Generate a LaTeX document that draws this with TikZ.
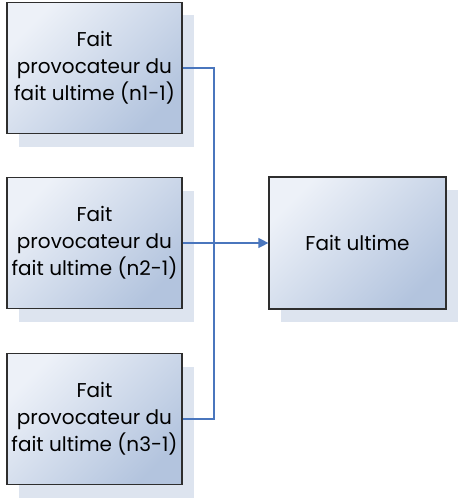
\documentclass[tikz,border=0pt]{standalone}
\usepackage{fontspec}
\setmainfont{Poppins}
\usetikzlibrary{shadows,arrows.meta}
\definecolor{boxlight}{HTML}{EDF1F8}
\definecolor{boxdark}{HTML}{B3C4DE}
\definecolor{boxshadow}{HTML}{DDE4EF}
\definecolor{linkblue}{HTML}{4A76BD}
\definecolor{boxborder}{HTML}{2E2E2E}
\begin{document}
\begin{tikzpicture}[x=1pt, y=-1pt, >={Triangle[length=10pt,width=10pt]},
    every node/.style={rectangle, draw=boxborder, line width=1.2pt, top color=boxlight, bottom color=boxdark, shading angle=45, align=center, inner sep=0pt, font=\fontsize{20}{27}\selectfont,
        drop shadow={shadow xshift=12pt, shadow yshift=-13pt, fill=boxshadow, opacity=1, draw=none}},
    fait/.style={minimum width=175pt, minimum height=131pt},
    link/.style={draw=linkblue, line width=1.3pt}]
        \useasboundingbox (0,0) rectangle (460,500);
        %draw nodes by coordinates
        \node[fait] (n1) at (94.5,68) {Fait\\provocateur du\\fait ultime (n1-1)};
        \node[fait] (n2) at (94.5,243) {Fait\\provocateur du\\fait ultime (n2-1)};
        \node[fait] (n3) at (94.5,419) {Fait\\provocateur du\\fait ultime (n3-1)};
        \node[fait, minimum width=177pt, minimum height=132pt] (ult) at (357.5,243) {Fait ultime};

        % junction on the vertical line
        \coordinate (j1) at (214,68);
        \coordinate (j3) at (214,419);

        % Draw edges (links)
        \draw[link] (n1.east) -- (j1) -- (j3) -- (n3.east);
        \draw[link, ->] (n2.east) -- (ult.west);
    \end{tikzpicture}
\end{document}
